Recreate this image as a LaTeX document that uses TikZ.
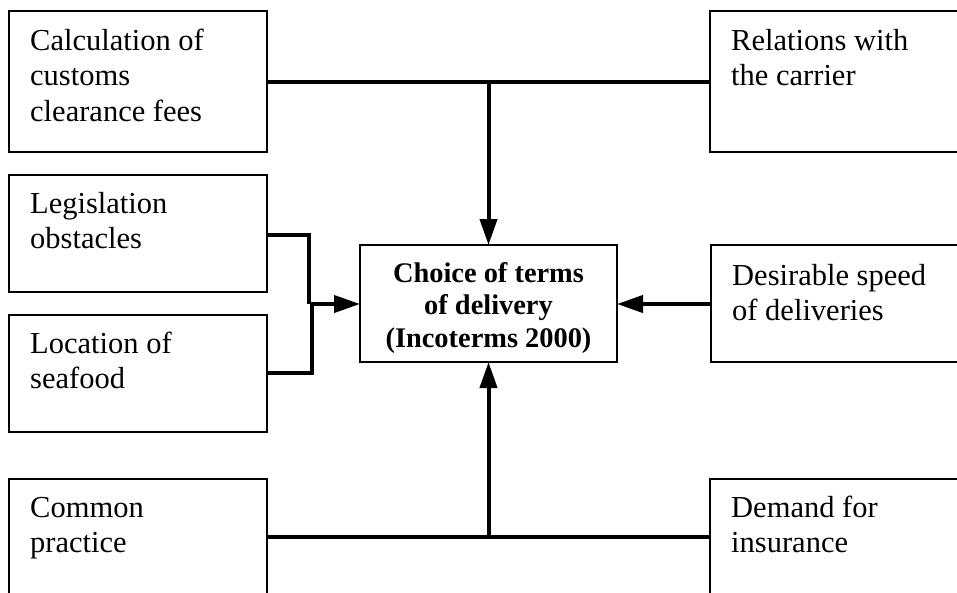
\documentclass[tikz,border=0pt]{standalone}
\usepackage{fontspec}
\setmainfont{Liberation Serif}
\usetikzlibrary{arrows.meta}
% fixes the height above the first baseline of a text block
\newcommand\firstline{\rule{0pt}{24pt}}
\begin{document}
\begin{tikzpicture}[x=1pt,y=-1pt,
  box/.style={draw, line width=1.6pt, rectangle, inner sep=0pt, outer sep=0pt,
              anchor=north west, minimum width=258pt},
  boxtext/.style={anchor=north west, inner sep=0pt, align=left,
                  font=\fontsize{30.5}{35.5}\selectfont},
  centertext/.style={anchor=north, inner sep=0pt, align=center,
                     font=\fontsize{28.4}{32.5}\selectfont\bfseries},
  link/.style={line width=4pt},
  arrowlink/.style={link, -{Triangle[length=26pt,width=17pt]}}]
\useasboundingbox (0,0) rectangle (957,592);
\clip (0,0) rectangle (957,592);

% factor boxes, left column
\node[box, minimum height=141pt] (fees) at (9,11) {};
\node[boxtext] (feestext) at (30,26) {\firstline Calculation of\\customs\\clearance fees};
\node[box, minimum height=117pt] (legal) at (9,175) {};
\node[boxtext] (legaltext) at (30,189) {\firstline Legislation\\obstacles};
\node[box, minimum height=117pt] (location) at (9,315) {};
\node[boxtext] (locationtext) at (30,329) {\firstline Location of\\seafood};
\node[box, minimum height=141pt] (practice) at (9,479) {};
\node[boxtext] (practicetext) at (30,493) {\firstline Common\\practice};

% factor boxes, right column
\node[box, minimum height=141pt] (carrier) at (710,11) {};
\node[boxtext] (carriertext) at (731,26) {\firstline Relations with\\the carrier};
\node[box, minimum height=117pt] (speed) at (711,245) {};
\node[boxtext] (speedtext) at (732,261) {\firstline Desirable speed\\of deliveries};
\node[box, minimum height=141pt] (insurance) at (710,479) {};
\node[boxtext] (insurancetext) at (731,493) {\firstline Demand for\\insurance};

% central decision box
\node[box, minimum width=257pt, minimum height=117pt] (choice) at (360,245) {};
\node[centertext] (choicetext) at (488.5,258) {\firstline Choice of terms\\of delivery\\(Incoterms 2000)};

% junction points of the connectors
\coordinate (jtop) at (488.5,82);
\coordinate (jbot) at (488.5,537);
\coordinate (jleft) at (310,304);

% top pair feeding down into the decision
\draw[link] (fees.east |- jtop) -- (carrier.west |- jtop);
\draw[arrowlink] (jtop) -- (choice.north);

% left pair merged into one arrow
\draw[link] (legal.east |- 0,235) -| (309,304);
\draw[link] (location.east |- 0,373) -| (312,302);
\draw[arrowlink] (jleft) -- (choice.west |- jleft);

% right input
\draw[arrowlink] (speed.west |- jleft) -- (choice.east |- jleft);

% bottom pair feeding up into the decision
\draw[link] (practice.east |- jbot) -- (insurance.west |- jbot);
\draw[arrowlink] (jbot) -- (choice.south);
\end{tikzpicture}
\end{document}
